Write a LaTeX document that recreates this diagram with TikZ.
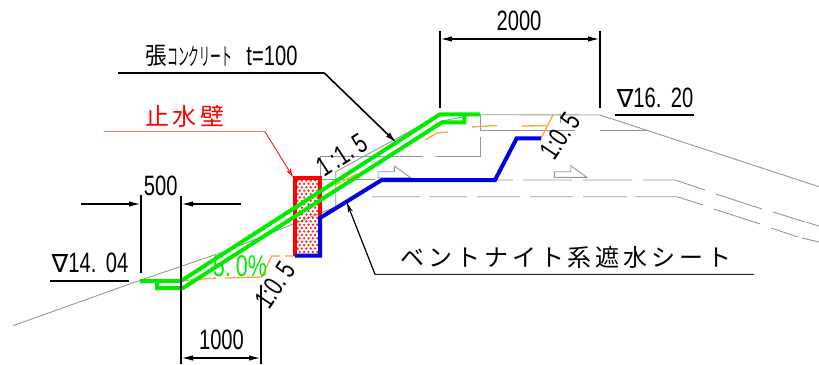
\documentclass[tikz,border=0pt]{standalone}
\usepackage{fontspec}
\usetikzlibrary{arrows.meta}
\newfontfamily\cad[FakeStretch=0.72]{Liberation Sans}
\newfontfamily\tri{DejaVu Sans}
\newfontfamily\jp{Noto Sans CJK JP}
\newfontfamily\jpw[LetterSpace=16]{Noto Sans CJK JP}
\newfontfamily\jpn[FakeStretch=0.45]{Noto Sans CJK JP}
\newfontfamily\jpk[FakeStretch=0.9]{Noto Sans CJK JP}
\definecolor{cgreen}{RGB}{0,235,0}
\definecolor{cblue}{RGB}{0,0,230}
\definecolor{cred}{RGB}{255,0,0}
\definecolor{cpink}{RGB}{255,110,110}
\definecolor{corange}{RGB}{255,165,40}
\definecolor{cgray}{RGB}{150,150,150}
\tikzset{
 x=1pt,y=-1pt,
 dimline/.style={line width=1.6pt,black},
 dimarrow/.style={line width=1.6pt,black,-{Latex[length=12pt,width=5.5pt]}},
 gline/.style={line width=0.9pt,cgray},
 greenl/.style={line width=4pt,cgreen,miter limit=2},
 bluel/.style={line width=4pt,cblue},
 orangel/.style={line width=1.3pt,corange},
 label/.style={inner sep=0pt,font=\cad\fontsize{28}{28}\selectfont},
}
\begin{document}
\begin{tikzpicture}
\useasboundingbox (0,0) rectangle (819,364);
% gray
\draw[gline] (13,325.7) -- (138,281) -- (226,251) -- (335.7,207) -- (335.7,171.7) -- (392,141) -- (440,115);
\draw[gline] (442,121) -- (463,117);
\draw[gline] (480,114.7) -- (600,115) -- (819,186.7);
\draw[gline] (320,156.7) -- (423,156.7) (435,156.7) -- (480,156.7) -- (480,137) (480,130) -- (480,115);
\draw[gline] (320,156.7) -- (320,178);
\draw[gline] (480,130) -- (575,130) (600,130) -- (646.7,130);
\draw[gline] (560,115) -- (560,123);
\draw[gline] (320,179.5) -- (375,179.5) (497,180) -- (513,180) (523,180) -- (572,180) (583,180) -- (632,180) (643,180) -- (675,180) -- (705,190) (716,194) -- (762,209) (773,212) -- (805,222) (806,222) -- (819,226);
\draw[gline] (372,196.7) -- (420,196.7) (430,196.7) -- (467,196.7) (477,196.7) -- (520,196.7) (530,196.7) -- (573,196.7) (583,196.7) -- (627,196.7) (635,196.7) -- (677,196.7) -- (703,205) (714,209) -- (760,224) (771,228) -- (798,237) (802,238) -- (819,242);
\draw[gline] (378,177.7) -- (378,171.7) -- (394.3,171.7) -- (394.3,166) -- (410.7,177.7) -- cycle;
\draw[gline] (554.3,177.3) -- (554.3,171.7) -- (570.7,171.7) -- (570.7,165.7) -- (586.7,177.3) -- cycle;
% orange
\draw[orangel] (181,280.7) -- (216,278);
\draw[orangel] (225,278) -- (261.7,277) -- (271.7,256) -- (280,256) (285,256) -- (295,256);
\draw[orangel] (541,138.3) -- (553,115);
\draw[orangel] (335,185) -- (357,174);
\draw[orangel] (425,140) -- (437,133) -- (448,132);
\draw[orangel] (472,127) -- (497,125.5);
\draw[orangel] (522,126) -- (546,125.7);
% wall
\foreach \i in {0,...,21}{
  \pgfmathsetmacro{\yy}{180.5+\i*3.4}
  \pgfmathsetmacro{\off}{mod(\i,2)*2.2}
  \foreach \j in {0,...,4}{
    \fill[cred!85!white] ({297.5+\off+\j*4.4},\yy) circle (1.3pt);
  }
}
\draw[line width=4pt,cred,line join=miter] (295,255.7) -- (295,178) -- (320,178) -- (320,218);
% blue
\draw[bluel,line join=miter] (295,255.7) -- (320,255.7) -- (320,218) -- (381.7,180) -- (495,180) -- (516.7,138.3) -- (541,138.3);
% green
\draw[greenl] (140,281) -- (181,281) -- (440,114.3) -- (480,114.3);
\draw[greenl] (157,281) -- (157,288) -- (183,288) -- (442,122.3) -- (464.3,122.3) -- (464.3,114.3);
% dims
\coordinate (a1) at (141,195); \coordinate (a2) at (141,273);
\coordinate (b1) at (181,196); \coordinate (b2) at (181,364);
\draw[dimline] (a1) -- (a2); \draw[dimline] (b1) -- (b2);
\draw[dimarrow] (81,204) -- (141,204);
\draw[dimarrow] (241,204) -- (181,204);
\draw[dimline] (261,285) -- (261,364);
\draw[dimarrow] (221,358) -- (181,358);
\draw[dimarrow] (221,358) -- (261,358);
\draw[dimline] (440,31) -- (440,108); \draw[dimline] (600,31) -- (600,108);
\draw[dimarrow] (520,39) -- (440,39);
\draw[dimarrow] (520,39) -- (600,39);
\draw[dimline] (50,281) -- (129,281);
\draw[dimline] (615,115) -- (694,115);
\draw[dimline] (118,72.7) -- (324,72.7);
\draw[dimarrow] (324,72.7) -- (396.7,143);
\draw[line width=1.5pt,cpink] (104,131.7) -- (265,131.7);
\draw[line width=.8pt,red,-{Stealth[length=9pt,width=5pt,open]}] (265,131.7) -- (293,177);
\draw[line width=1pt,black!85] (754,274.3) -- (375,274.3) -- (347,203);
\draw[line width=.9pt,black,-{Stealth[length=10pt,width=5pt,open]}] (375,274.3) -- (347,203);
% texts
\node[label] (t500) at (160.7,186) {500};
\node[label] (t1000) at (221.5,340) {1000};
\node[label] (t2000) at (519,21) {2000};
\node[label] (tl) at (90,263) {{\tri\fontsize{25}{25}\selectfont ∇}14.\,\,04};
\node[label] (th) at (655,98) {{\tri\fontsize{25}{25}\selectfont ∇}16.\,\,20};
\node[label,rotate=56] (s1) at (275,285) {1:0.\,5};
\node[label,rotate=56] (s2) at (560,136) {1:0.\,5};
\node[label,rotate=33] (s3) at (342,155) {1\,:1.\,5};
\node[label,text=cgreen,font=\cad\fontsize{30}{30}\selectfont] (pct) at (240,266) {5.\,0\%};
\node[inner sep=0pt,anchor=west,font=\jpk\fontsize{24}{24}\selectfont] (kanji) at (145,56) {張};
\node[inner sep=0pt,anchor=west,font=\jpn\fontsize{24}{24}\selectfont] (concrete) at (167,56) {コンクリート};
\node[label] (tt) at (272,56) {t=100};
\node[inner sep=0pt,text=cred,font=\jp\fontsize{24}{24}\selectfont] (wall) at (185,116) {止\,水\,壁};
\node[inner sep=0pt,font=\jpw\fontsize{24}{24}\selectfont] (sheet) at (566,257) {ベントナイト系遮水シート};
\end{tikzpicture}
\end{document}
